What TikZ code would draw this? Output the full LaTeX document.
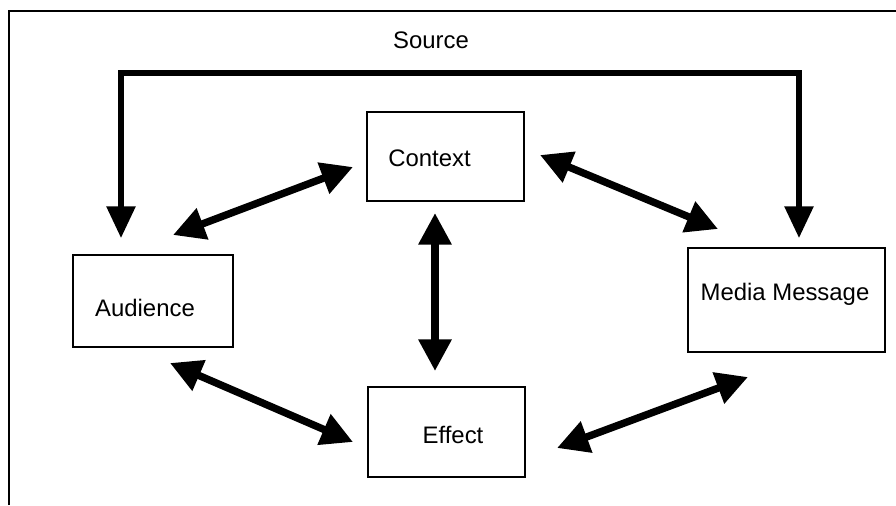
\documentclass[tikz,border=0pt]{standalone}
\usepackage{fontspec}
\setmainfont{Liberation Sans}
\usetikzlibrary{calc,arrows.meta}

\tikzset{
  box/.style={draw, line width=1.4pt, inner sep=0pt},
  lbl/.style={inner sep=0pt, font=\fontsize{13.6pt}{16pt}\selectfont},
  dbl/.style={line width=4.2pt, {Triangle[length=18pt,width=18pt]}-{Triangle[length=18pt,width=18pt]}},
  srcline/.style={line width=3pt, line join=miter, {Triangle[length=18pt,width=16pt]}-{Triangle[length=18pt,width=16pt]}}
}

\begin{document}
\begin{tikzpicture}[x=0.02cm, y=-0.02cm]
    \useasboundingbox (0,0) rectangle (896,505);
    % outer frame
    \draw[line width=1.5pt] (9,505) -- (9,11) -- (896,11);

    \node[box, minimum width=157*0.02cm, minimum height=89*0.02cm] (ctx) at (445.5,156.5) {};
    \node[box, minimum width=157*0.02cm, minimum height=90*0.02cm] (eff) at (446.5,432) {};
    \node[box, minimum width=160*0.02cm, minimum height=92*0.02cm] (aud) at (153,301) {};
    \node[box, minimum width=197*0.02cm, minimum height=104*0.02cm] (msg) at (786.5,300) {};

    \node[lbl] (ctxtxt) at ($(ctx)+(-16,2)$) {Context};
    \node[lbl] (efftxt) at ($(eff)+(6.5,3)$) {Effect};
    \node[lbl] (audtxt) at ($(aud)+(-8,7)$) {Audience};
    \node[lbl] (msgtxt) at ($(msg)+(-1.5,-6)$) {Media Message};
    \node[lbl] (src) at (431,40) {Source};

    % source lines
    \coordinate (srcmid) at (431,73);
    \coordinate (sl) at (121,238);
    \coordinate (sr) at (799,238);
    \draw[srcline] (sl) |- (srcmid) -| (sr);

    % arrow ends
    \coordinate (ac1) at (173,235);
    \coordinate (ac2) at (353,167);
    \coordinate (cm1) at (540,155);
    \coordinate (cm2) at (718,229);
    \coordinate (ae1) at (170,363);
    \coordinate (ae2) at (353,442);
    \coordinate (em1) at (557,448);
    \coordinate (em2) at (748,377);
    \coordinate (ce1) at (435,213);
    \coordinate (ce2) at (435,371);

    \draw[dbl] (ac1) -- (ac2);
    \draw[dbl] (cm1) -- (cm2);
    \draw[dbl] (ae1) -- (ae2);
    \draw[dbl] (em1) -- (em2);
    \draw[dbl] (ce1) -- (ce2);
\end{tikzpicture}
\end{document}
